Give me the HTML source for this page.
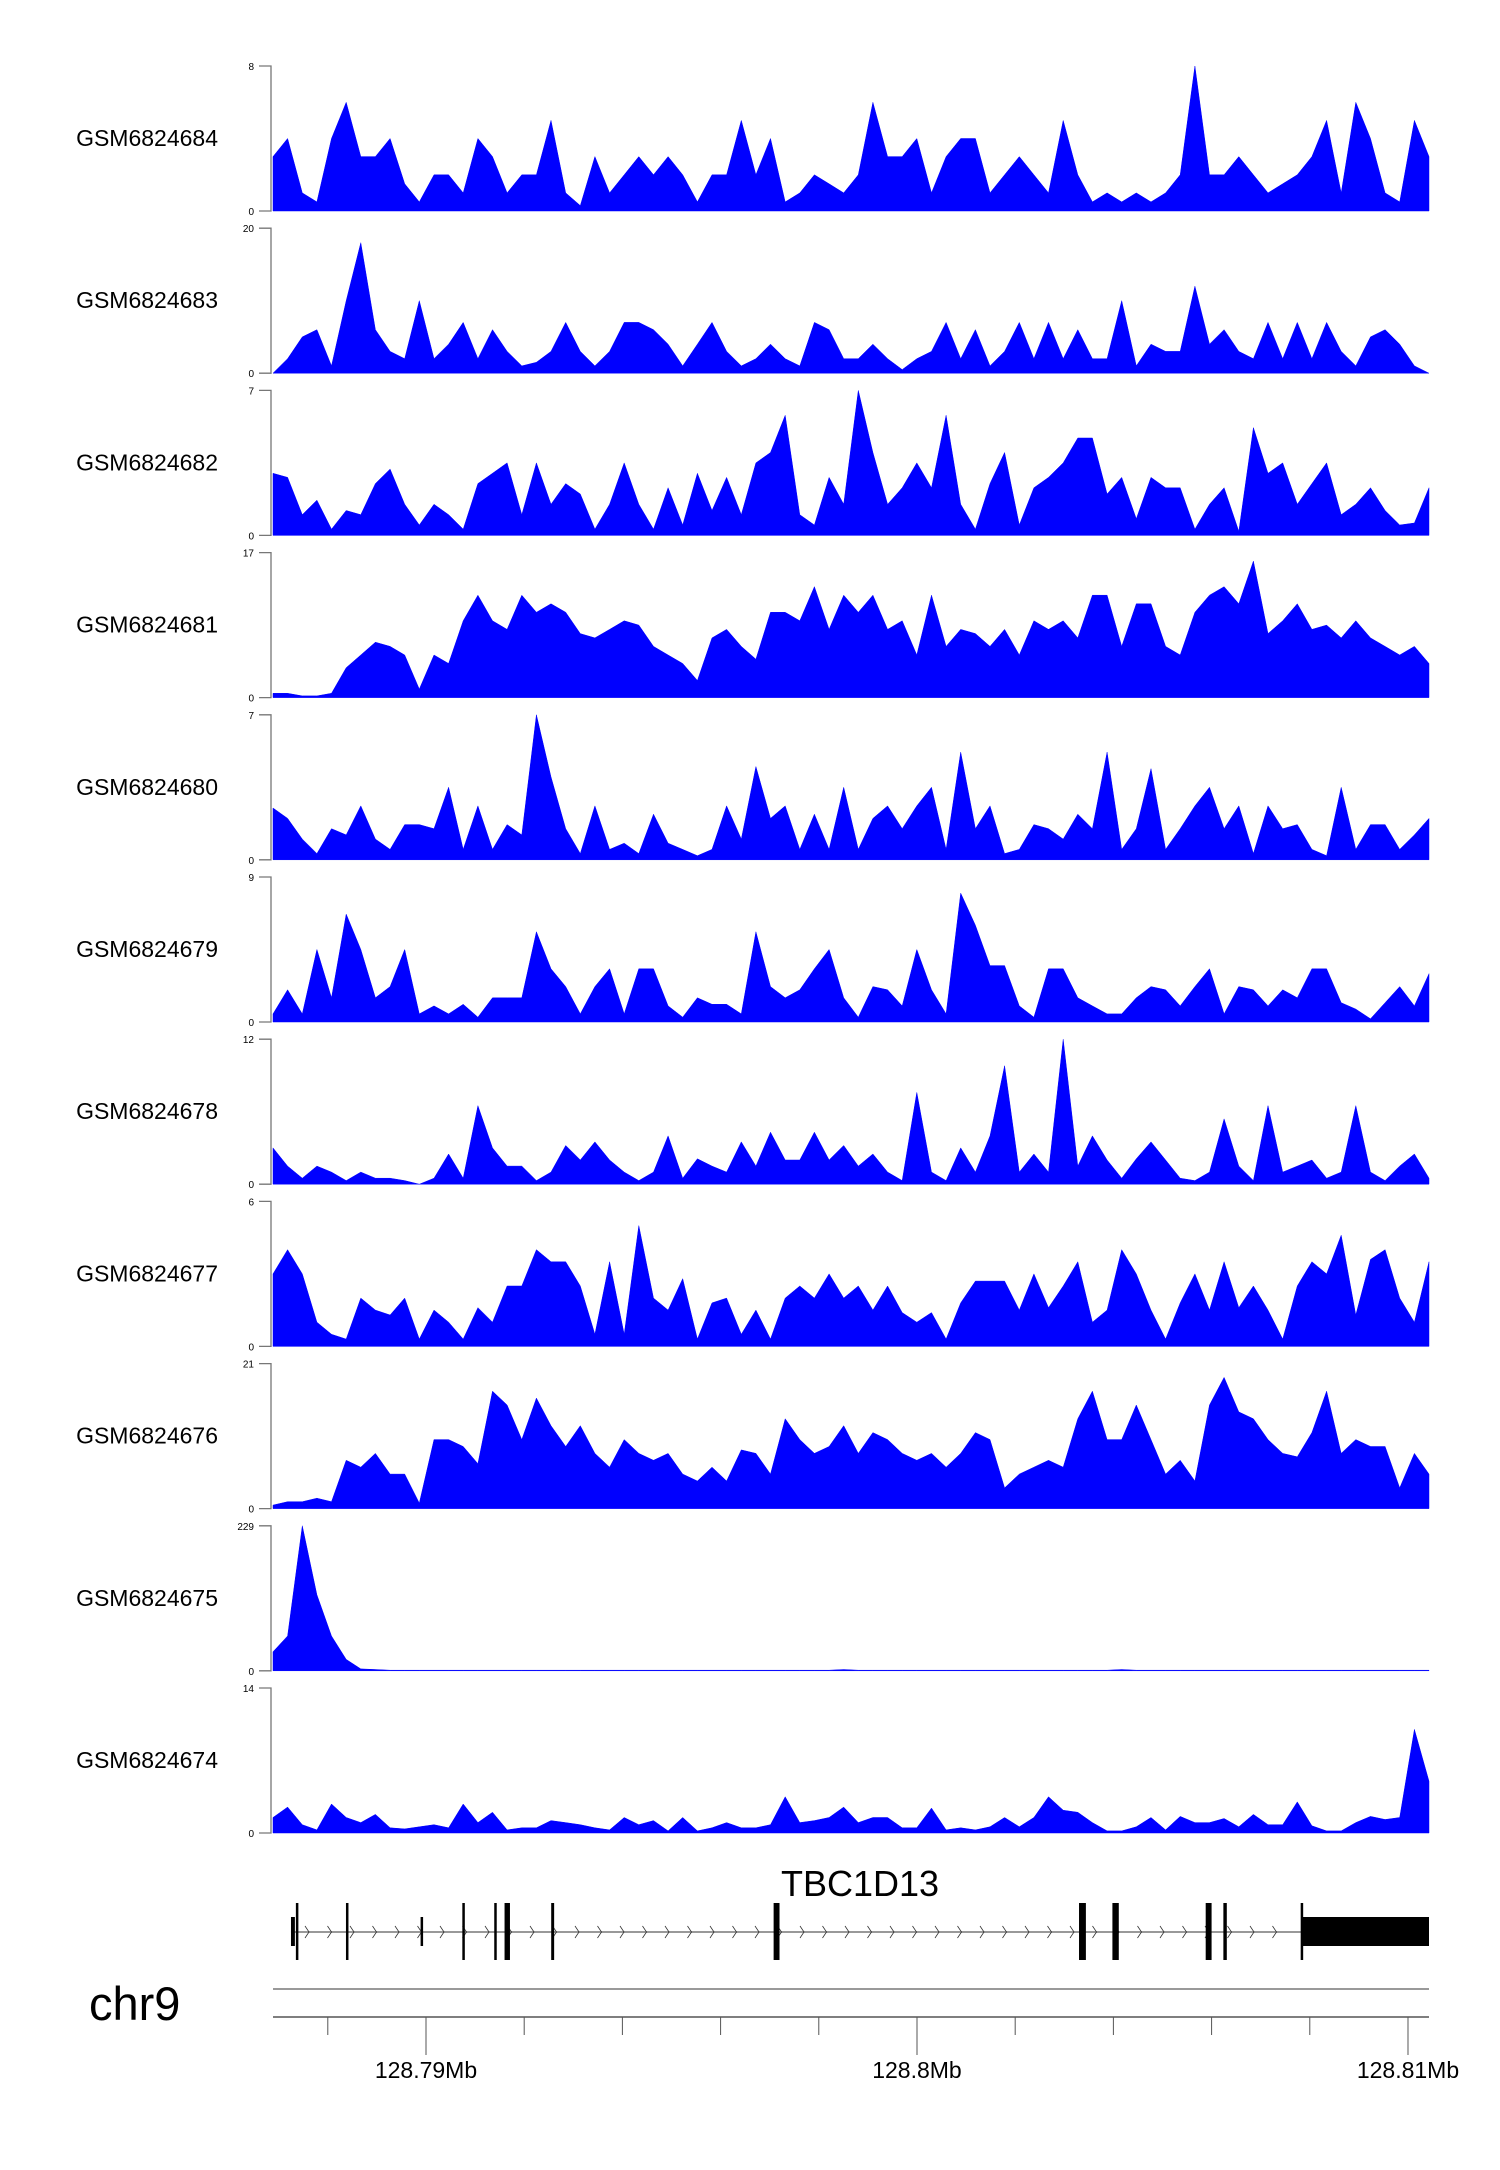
<!DOCTYPE html>
<html><head><meta charset="utf-8"><style>
html,body{margin:0;padding:0;background:#fff;}
svg{display:block;font-family:"Liberation Sans",sans-serif;}
</style></head><body>
<svg id="chart" width="1500" height="2170" viewBox="0 0 1500 2170" xmlns="http://www.w3.org/2000/svg">
<g id="tracks"></g>
<g id="gene">
 <text x="860" y="1896" font-size="36" text-anchor="middle">TBC1D13</text>
</g>
<g id="axis">
 <text x="89" y="2020" font-size="47">chr9</text>
</g>
</svg>
<script>
const sampleNames = ["GSM6824684","GSM6824683","GSM6824682","GSM6824681","GSM6824680","GSM6824679","GSM6824678","GSM6824677","GSM6824676","GSM6824675","GSM6824674"];
const axisMax = [8,20,7,17,7,9,12,6,21,229,14];
const s684 = [3,4,1,0.5,4,6,3,3,4,1.5,0.5,2,2,1,4,3,1,2,2,5,1,0.3,3,1,2,3,2,3,2,0.5,2,2,5,2,4,0.5,1,2,1.5,1,2,6,3,3,4,1,3,4,4,1,2,3,2,1,5,2,0.5,1,0.5,1,0.5,1,2,8,2,2,3,2,1,1.5,2,3,5,1,6,4,1,0.5,5,3];
const s683 = [0,2,5,6,1,10,18,6,3,2,10,2,4,7,2,6,3,1,1.5,3,7,3,1,3,7,7,6,4,1,4,7,3,1,2,4,2,1,7,6,2,2,4,2,0.5,2,3,7,2,6,1,3,7,2,7,2,6,2,2,10,1,4,3,3,12,4,6,3,2,7,2,7,2,7,3,1,5,6,4,1,0];
const s682 = [3,2.8,1,1.7,0.3,1.2,1,2.5,3.2,1.5,0.5,1.5,1,0.3,2.5,3,3.5,1,3.5,1.5,2.5,2,0.3,1.5,3.5,1.5,0.3,2.3,0.5,3,1.2,2.8,1,3.5,4,5.8,1,0.5,2.8,1.5,7,4,1.5,2.3,3.5,2.3,5.8,1.5,0.3,2.5,4,0.5,2.3,2.8,3.5,4.7,4.7,2,2.8,0.8,2.8,2.3,2.3,0.3,1.5,2.3,0.2,5.2,3,3.5,1.5,2.5,3.5,1,1.5,2.3,1.2,0.5,0.6,2.3];
const s681 = [0.5,0.5,0.2,0.2,0.5,3.5,5,6.5,6,5,1,5,4,9,12,9,8,12,10,11,10,7.5,7,8,9,8.5,6,5,4,2,7,8,6,4.5,10,10,9,13,8,12,10,12,8,9,5,12,6,8,7.5,6,8,5,9,8,9,7,12,12,6,11,11,6,5,10,12,13,11,16,7.5,9,11,8,8.5,7,9,7,6,5,6,4];
const s680 = [2.5,2,1,0.3,1.5,1.2,2.6,1,0.5,1.7,1.7,1.5,3.5,0.5,2.6,0.5,1.7,1.2,7,4,1.5,0.3,2.6,0.5,0.8,0.3,2.2,0.8,0.5,0.2,0.5,2.6,1,4.5,2,2.6,0.5,2.2,0.5,3.5,0.5,2,2.6,1.5,2.6,3.5,0.5,5.2,1.5,2.6,0.3,0.5,1.7,1.5,1,2.2,1.5,5.2,0.5,1.5,4.4,0.5,1.5,2.6,3.5,1.5,2.6,0.3,2.6,1.5,1.7,0.5,0.2,3.5,0.5,1.7,1.7,0.5,1.2,2];
const s679 = [0.5,2,0.5,4.5,1.5,6.7,4.5,1.5,2.2,4.5,0.5,1,0.5,1.1,0.3,1.5,1.5,1.5,5.6,3.3,2.2,0.5,2.2,3.3,0.5,3.3,3.3,1,0.3,1.5,1.1,1.1,0.5,5.6,2.2,1.5,2,3.3,4.5,1.5,0.3,2.2,2,1,4.5,2,0.5,8,6,3.5,3.5,1,0.3,3.3,3.3,1.5,1,0.5,0.5,1.5,2.2,2,1,2.2,3.3,0.5,2.2,2,1,2,1.5,3.3,3.3,1.2,0.8,0.2,1.2,2.2,1,3];
const s678 = [3,1.5,0.5,1.5,1,0.3,1,0.5,0.5,0.3,0,0.5,2.5,0.5,6.5,3,1.5,1.5,0.3,1,3.2,2,3.5,2,1,0.3,1,4,0.5,2.1,1.5,1,3.5,1.5,4.3,2,2,4.3,2,3.2,1.5,2.5,1,0.3,7.6,1,0.3,3,1,4,9.8,1,2.5,1,12,1.5,4,2,0.5,2.1,3.5,2,0.5,0.3,1,5.4,1.5,0.3,6.5,1,1.5,2,0.5,1,6.5,1,0.3,1.5,2.5,0.5];
const s677 = [3,4,3,1,0.5,0.3,2,1.5,1.3,2,0.3,1.5,1,0.3,1.6,1,2.5,2.5,4,3.5,3.5,2.5,0.5,3.5,0.5,5,2,1.5,2.8,0.3,1.8,2,0.5,1.5,0.3,2,2.5,2,3,2,2.5,1.5,2.5,1.4,1,1.4,0.3,1.8,2.7,2.7,2.7,1.5,3,1.6,2.5,3.5,1,1.5,4,3,1.5,0.3,1.8,3,1.5,3.5,1.6,2.5,1.5,0.3,2.5,3.5,3,4.6,1.3,3.6,4,2,1,3.5];
const s676 = [0.5,1,1,1.5,1,7,6,8,5,5,0.8,10,10,9,6.5,17,15,10,16,12,9,12,8,6,10,8,7,8,5,4,6,4,8.5,8,5,13,10,8,9,12,8,11,10,8,7,8,6,8,11,10,3,5,6,7,6,13,17,10,10,15,10,5,7,4,15,19,14,13,10,8,7.5,11,17,8,10,9,9,3,8,5];
const s675 = [30,55,229,120,55,18,3,2,1,1,1,1,1,1,1,1,1,1,1,1,1,1,1,1,1,1,1,1,1,1,1,1,1,1,1,1,1,1,1,2,1,1,1,1,1,1,1,1,1,1,1,1,1,1,1,1,1,1,2,1,1,1,1,1,1,1,1,1,1,1,1,1,1,1,1,1,1,1,1,1];
const s674 = [1.5,2.5,0.8,0.3,2.8,1.5,1,1.8,0.5,0.4,0.6,0.8,0.5,2.8,1,2,0.3,0.5,0.5,1.2,1,0.8,0.5,0.3,1.5,0.8,1.2,0.2,1.5,0.2,0.5,1,0.5,0.5,0.8,3.5,1,1.2,1.5,2.5,1,1.5,1.5,0.5,0.5,2.4,0.3,0.5,0.3,0.6,1.5,0.6,1.5,3.5,2.2,2,1,0.2,0.2,0.6,1.5,0.3,1.6,1,1,1.4,0.6,1.8,0.8,0.8,3,0.7,0.2,0.2,1,1.6,1.3,1.5,10,5];
const seriesValues = [s684,s683,s682,s681,s680,s679,s678,s677,s676,s675,s674];
const exonStarts = [128787250,128787350,128788370,128789890,128790740,128791390,128791600,128792550,128797080,128803300,128803980,128805880,128806240,128807840];
const exonEnds   = [128787330,128787390,128788410,128789940,128790790,128791440,128791710,128792610,128797200,128803440,128804110,128806000,128806310,128810428];
const exonTall   = [false,true,true,false,true,true,true,true,true,true,true,true,true,false];
const tickMb = [128.788,128.79,128.792,128.794,128.796,128.798,128.8,128.802,128.804,128.806,128.808,128.81];
const tickLabels = ["","128.79Mb","","","","","128.8Mb","","","","","128.81Mb"];

const NS="http://www.w3.org/2000/svg";
const L=273,R=1429,G0=128786884,G1=128810428;
const xg=bp=>L+(bp-G0)/(G1-G0)*(R-L);
function mk(tag,attrs,parent){const e=document.createElementNS(NS,tag);for(const k in attrs)e.setAttribute(k,attrs[k]);parent.appendChild(e);return e;}
const tracks=document.getElementById('tracks');
for(let t=0;t<seriesValues.length;t++){
  const top=66+t*162.2,h=145,bot=top+h,vals=seriesValues[t],mx=axisMax[t];
  const g=mk('g',{},tracks);
  
  
  const lab=mk('text',{x:218,y:top+80,'font-size':23,'text-anchor':'end'},g);
  lab.textContent=sampleNames[t];
  
  
  const ax=mk('path',{d:`M259 ${top}H271V${bot}H259`,fill:'none',stroke:'#777','stroke-width':1.3},g);
  
  
  const tmax=mk('text',{x:254,y:top+4,'font-size':10,'text-anchor':'end'},g);tmax.textContent=mx;
  
  
  const tmin=mk('text',{x:254,y:bot+4,'font-size':10,'text-anchor':'end'},g);tmin.textContent='0';
  
  
  const n=vals.length;let d=`M${L} ${bot}`;
  for(let i=0;i<n;i++){const x=L+i*(R-L)/(n-1);const y=bot-Math.min(vals[i],mx)/mx*h;d+=`L${x.toFixed(1)} ${y.toFixed(1)}`;}
  d+=`L${R} ${bot}Z`;
  const area=mk('path',{d,fill:'#0000ff',stroke:'#0000ff','stroke-width':0.5},g);
  
  
}
const gene=document.getElementById('gene');
const gl=mk('line',{x1:xg(exonStarts[0]),x2:R,y1:1932,y2:1932,stroke:'#999','stroke-width':2},gene);


for(let x=305;x<1295;x+=22.5){
  const c=mk('path',{d:`M${x} 1926L${x+4} 1932L${x} 1938`,fill:'none',stroke:'#333','stroke-width':0.8},gene);
  
  
}
for(let i=0;i<exonStarts.length;i++){
  const x0=xg(exonStarts[i]),x1=xg(exonEnds[i]);
  const y0=exonTall[i]?1903:1917,y1=exonTall[i]?1960:1946;
  const r=mk('rect',{x:x0,y:y0,width:Math.max(x1-x0,2.5),height:y1-y0,fill:'#000'},gene);
  
  
}
const lastStart=xg(exonStarts[exonStarts.length-1]);
const ed=mk('line',{x1:lastStart,x2:lastStart,y1:1903,y2:1960,stroke:'#000','stroke-width':2.5},gene);


const axis=document.getElementById('axis');
const cl=mk('line',{x1:L,x2:R,y1:1989,y2:1989,stroke:'#999','stroke-width':2},axis);


const al=mk('line',{x1:L,x2:R,y1:2017,y2:2017,stroke:'#555','stroke-width':1.5},axis);


for(let i=0;i<tickMb.length;i++){
  const x=xg(tickMb[i]*1e6);const major=tickLabels[i]!=="";
  const tk=mk('line',{x1:x,x2:x,y1:2017,y2:major?2055:2035,stroke:'#555','stroke-width':1},axis);
  
  
  if(major){const tl=mk('text',{x:x,y:2078,'font-size':23,'text-anchor':'middle'},axis);tl.textContent=tickLabels[i];
  
  }
}
</script>
</body></html>
